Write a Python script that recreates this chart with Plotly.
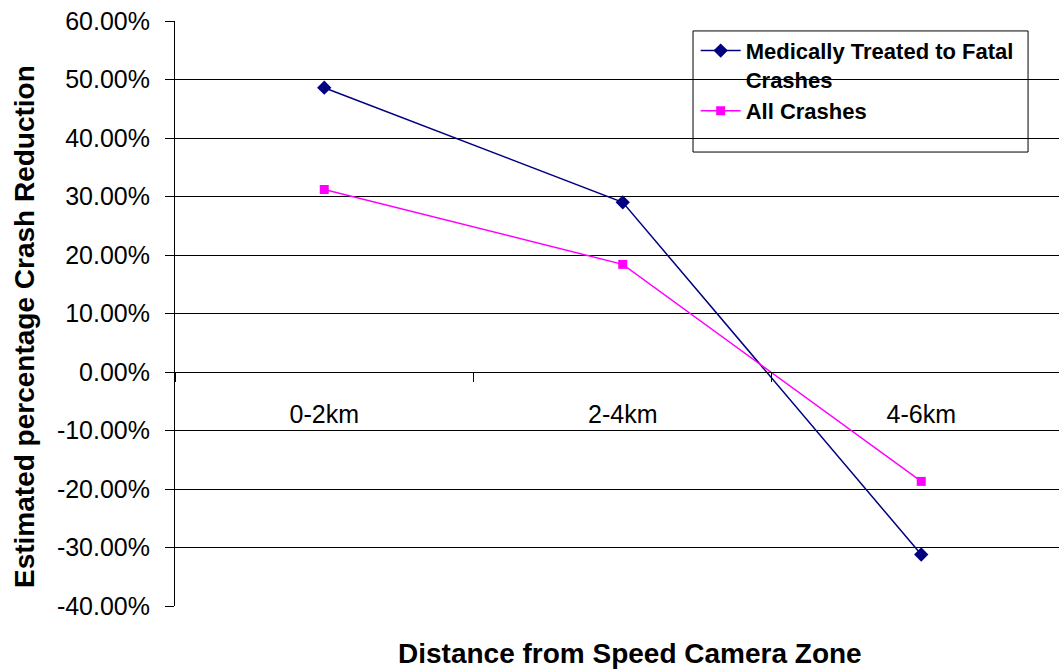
import plotly.graph_objects as go

categories = ["0-2km", "2-4km", "4-6km"]
medically_treated = [48.6, 29.0, -31.2]
all_crashes = [31.2, 18.4, -18.7]
y_ticks = [-40, -30, -20, -10, 0, 10, 20, 30, 40, 50, 60]
y_tick_labels = [f"{v:.2f}%" for v in y_ticks]

FONT = "Liberation Sans, Arial, sans-serif"

fig = go.Figure()
fig.add_trace(go.Scatter(
    x=categories, y=medically_treated, mode="lines+markers",
    name="Medically Treated to Fatal<br>Crashes",
    line=dict(color="#000080", width=1.5),
    marker=dict(symbol="diamond", size=11, color="#000080"),
))
fig.add_trace(go.Scatter(
    x=categories, y=all_crashes, mode="lines+markers",
    name="All Crashes",
    line=dict(color="#FF00FF", width=1.5),
    marker=dict(symbol="square", size=9, color="#FF00FF"),
))

fig.update_layout(
    width=1059, height=670,
    margin=dict(l=175, r=0, t=21, b=64, autoexpand=False),
    paper_bgcolor="white", plot_bgcolor="white",
    font=dict(family=FONT, color="black", size=25),
    showlegend=True,
    legend=dict(
        x=0.589, y=0.985, xanchor="left", yanchor="top",
        bgcolor="rgba(0,0,0,0)", borderwidth=0,
        font=dict(family=FONT, size=22, color="black", weight="bold"),
        itemwidth=40, tracegroupgap=0, valign="top",
    ),
    xaxis=dict(
        type="category", range=[-0.5, 2.4615],
        anchor="free", position=0.4004,
        showline=True, linecolor="#000000", linewidth=1,
        ticks="outside", ticklen=9, tickcolor="#000000", tickson="boundaries",
        ticklabelstandoff=20,
        showgrid=False, zeroline=False,
        tickfont=dict(family=FONT, size=25, color="black"),
    ),
    yaxis=dict(
        range=[-40, 60], tickvals=y_ticks, ticktext=y_tick_labels,
        showline=True, linecolor="#000000", linewidth=1,
        ticks="outside", ticklen=9, tickcolor="#000000",
        ticklabelstandoff=10,
        showgrid=True, gridcolor="#000000", gridwidth=1,
        zeroline=True, zerolinecolor="#000000", zerolinewidth=1,
        tickfont=dict(family=FONT, size=25, color="black"),
    ),
    shapes=[dict(
        type="rect", xref="paper", yref="paper",
        x0=0.586, x1=0.965, y0=0.776, y1=0.983,
        line=dict(color="#000000", width=1), fillcolor="white", layer="below",
    )],
    annotations=[
        dict(text="<b>Distance from Speed Camera Zone</b>", xref="paper", yref="paper",
             x=(630 - 175) / 884, y=-(653 - 606) / 585, xanchor="center", yanchor="middle",
             showarrow=False, font=dict(family=FONT, size=28, color="black")),
        dict(text="<b>Estimated percentage Crash Reduction</b>", xref="paper", yref="paper",
             x=-(175 - 25) / 884, y=(606 - 327) / 585, xanchor="center", yanchor="middle",
             textangle=-90, showarrow=False, font=dict(family=FONT, size=28, color="black")),
    ],
)

fig.write_html(
    "out.html",
    config={"displayModeBar": False},
    post_script="document.body.style.margin='0';document.body.style.overflow='hidden';",
)
